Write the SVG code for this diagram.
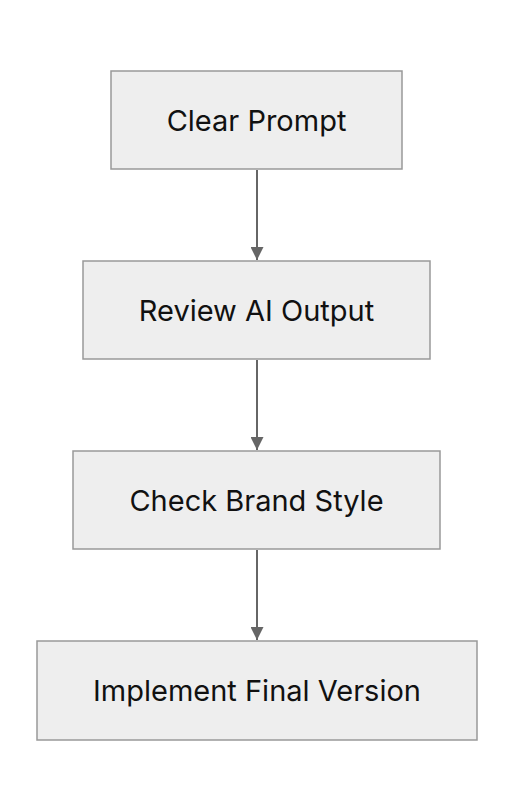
<svg xmlns="http://www.w3.org/2000/svg" width="514" height="812" viewBox="0 0 514 812">
<style>
.box{fill:#eeeeee;stroke:#999999;stroke-width:1.5}
.lbl{font-family:Inter,"Noto Sans",sans-serif;font-size:29px;fill:#111111;text-anchor:middle}
.edge{stroke:#666666;stroke-width:2;fill:none}
</style>
<defs>
<marker id="arr" viewBox="0 0 10 10" refX="10" refY="5" markerWidth="6.5" markerHeight="6.5" markerUnits="strokeWidth" orient="auto">
<path d="M0,0 L10,5 L0,10 z" fill="#666666"/>
</marker>
</defs>
<rect width="514" height="812" fill="#ffffff"/>
<g id="connectors">
<line class="edge" x1="257" y1="170" x2="257" y2="260" marker-end="url(#arr)"/>
<line class="edge" x1="257" y1="360" x2="257" y2="450" marker-end="url(#arr)"/>
<line class="edge" x1="257" y1="550" x2="257" y2="640" marker-end="url(#arr)"/>
</g>
<g id="node1"><rect class="box" x="111" y="71" width="291" height="98"/><text class="lbl" x="256.5" y="130.5">Clear Prompt</text></g>
<g id="node2"><rect class="box" x="83" y="261" width="347" height="98"/><text class="lbl" x="256.5" y="320.5">Review AI Output</text></g>
<g id="node3"><rect class="box" x="73" y="451" width="367" height="98"/><text class="lbl" x="256.5" y="510.5">Check Brand Style</text></g>
<g id="node4"><rect class="box" x="37" y="641" width="440" height="99"/><text class="lbl" x="257" y="701">Implement Final Version</text></g>
</svg>
